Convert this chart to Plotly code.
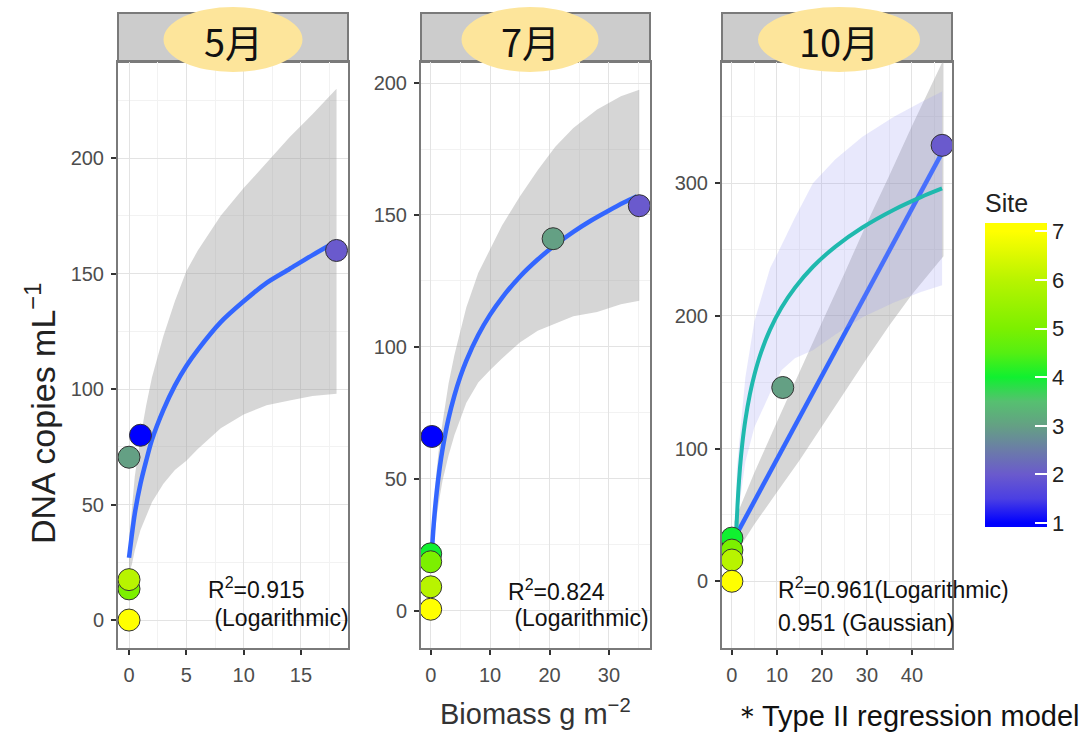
import plotly.graph_objects as go

W, H = 1084, 733

# ---------------- data ----------------
months = ["5月", "7月", "10月"]

# May
may_site = [1, 2, 3, 5, 6, 7]
may_biomass = [1.0, 18.1, 0.0, 0.0, 0.0, 0.0]
may_dna = [80, 160, 70.5, 13.5, 17.5, 0]
may_fit_x = [0, 0.25, 0.5, 1, 1.5, 2, 3, 4, 5, 6, 8, 10, 12, 14, 16, 18.1]
may_fit_y = [27, 37, 46, 59, 69, 78, 91, 101.5, 110, 117, 129, 138, 146, 152, 158, 164]
may_band_x = [0, 0.25, 0.5, 1, 1.5, 2, 3, 4, 5, 6, 8, 10, 12, 14, 16, 18.1]
may_up_y = [34, 50, 62, 79, 93, 105, 123, 138, 151, 160, 175, 187, 198, 209, 219, 230]
may_lo_y = [20, 24, 30, 39, 45, 51, 59, 65, 69, 74, 83, 89, 93, 95, 97, 98]
may_r2 = ["R<sup>2</sup>=0.915", " (Logarithmic)"]

# July
jul_site = [1, 2, 3, 4, 5, 6, 7]
jul_biomass = [0.2, 35.1, 20.6, 0, 0, 0, 0]
jul_dna = [66, 153.5, 141, 21.5, 18.5, 9, 0.5]
jul_fit_x = [0.17, 0.5, 1, 1.5, 2, 3, 4, 5, 6, 8, 10, 12, 15, 18, 21, 24, 27, 30, 32.5, 34.7]
jul_fit_y = [21.4, 32.4, 44.7, 53.9, 61.3, 72.8, 81.6, 88.8, 94.8, 104.5, 112.2, 118.6,
             126.6, 133.1, 138.7, 143.6, 147.9, 151.7, 154.7, 157.1]
jul_band_x = [0.17, 0.5, 1, 1.5, 2, 3, 4, 6, 8, 10, 12, 15, 18, 21, 24, 28, 32, 35.1]
jul_up_y = [25, 38, 53, 64, 72, 86, 97, 115, 128, 137, 146, 157, 167, 176, 183, 190, 195, 197.5]
jul_lo_y = [17.4, 25.4, 35.7, 42.9, 49.3, 58.8, 66.6, 78.8, 86.5, 91.2, 95.6, 101.6,
            106.1, 108.7, 111.6, 113.2, 116.1, 117.5]
jul_r2 = ["R<sup>2</sup>=0.824", " (Logarithmic)"]

# October
oct_site = [2, 3, 4, 5, 6, 7]
oct_biomass = [46.7, 11.3, 0, 0, 0, 0]
oct_dna = [328.5, 146, 32.5, 23.5, 16, 0]
oct_lin_x = [0.5, 46.7]
oct_lin_y = [32, 323]
oct_lin_band_x = [0.5, 5, 10, 15, 20, 25, 30, 35, 40, 47]
oct_lin_up_y = [45, 82, 120, 158, 195, 232, 270, 306, 343, 393]
oct_lin_lo_y = [19, 43, 67, 91, 116, 142, 168, 193, 216, 245]
oct_log_x = [0.75, 0.9, 1.1, 1.4, 1.8, 2.3, 3, 4, 5, 6.5, 8.5, 11, 14, 18, 23, 29, 36, 42, 46.7]
oct_log_y = [11.8, 29.5, 47.1, 66.6, 85.6, 103.3, 121.7, 141, 155.7, 172.7, 189.8, 206.1,
             221.2, 237, 252.2, 266.6, 280, 289.5, 296]
oct_log_band_x = [0.75, 1.1, 1.8, 3, 5, 8.5, 11, 14, 18, 23, 29, 36, 42, 46.7]
oct_log_up_y = [22, 85, 111, 154, 196, 236, 253, 274, 300, 318, 335, 350, 361, 369]
oct_log_lo_y = [2, 49, 61, 90, 116, 142, 159, 168, 174, 186, 199, 210, 218, 223]
oct_r2 = ["R<sup>2</sup>=0.961(Logarithmic)", "0.951 (Gaussian)"]

site_ticks = [1, 2, 3, 4, 5, 6, 7]
x_title = "Biomass g m<sup>−2</sup>"
y_title = "DNA copies mL<sup>−1</sup>"
footnote = "＊Type II regression model"

# ---------------- styling / layout ----------------
def px(x):
    return x / W

def py(y):
    return 1 - y / H

panels = [(118, 348), (421, 650), (722, 952)]
TOP, BOT, STRIP_TOP = 62, 648, 13
ranges_x = [[-0.96, 19.1], [-1.63, 36.9], [-2.2, 48.9]]
ranges_y = [[-12.1, 241.6], [-14.2, 208], [-50.3, 391.3]]
dt_x = [5, 10, 10]
dt_y = [50, 50, 100]

BLUE = "#3366ff"
TEAL = "#1fb9ae"
GRAYBAND = "rgba(153,153,153,0.4)"
LAVBAND = "rgba(150,150,240,0.22)"

site_color_stops = [
    (1.0, "#0000ff"), (1.5, "#4b3fe3"), (2.0, "#6a5acd"), (2.5, "#6b7ca8"),
    (3.0, "#64a084"), (3.5, "#56c070"), (4.0, "#10f030"), (4.5, "#55ef12"),
    (5.0, "#7cf000"), (5.5, "#9af200"), (6.0, "#b8f400"), (6.5, "#dcf900"),
    (7.0, "#ffff00")]
CMIN, CMAX = 0.92, 7.17
cscale = [[0.0, site_color_stops[0][1]]]
for v, c in site_color_stops:
    cscale.append([(v - CMIN) / (CMAX - CMIN), c])
cscale.append([1.0, site_color_stops[-1][1]])

fig = go.Figure()

def band(xa, ya, bx, up_y, lo_y, color):
    fig.add_trace(go.Scatter(
        x=list(bx) + list(bx)[::-1], y=list(up_y) + list(lo_y)[::-1],
        mode="lines", fill="toself", fillcolor=color, line=dict(width=0),
        xaxis=xa, yaxis=ya, hoverinfo="skip", showlegend=False))

def curve(xa, ya, x, y, color, width=4.5):
    fig.add_trace(go.Scatter(
        x=x, y=y, mode="lines", line=dict(color=color, width=width, shape="spline", smoothing=0.8),
        xaxis=xa, yaxis=ya, hoverinfo="skip", showlegend=False))

def points(xa, ya, x, y, s):
    fig.add_trace(go.Scatter(
        x=x, y=y, mode="markers", cliponaxis=False,
        marker=dict(size=22, color=s, coloraxis="coloraxis",
                    line=dict(color="#333333", width=1)),
        xaxis=xa, yaxis=ya, showlegend=False))

# May
band("x", "y", may_band_x, may_up_y, may_lo_y, GRAYBAND)
curve("x", "y", may_fit_x, may_fit_y, BLUE)
points("x", "y", may_biomass, may_dna, may_site)
# July
band("x2", "y2", jul_band_x, jul_up_y, jul_lo_y, GRAYBAND)
curve("x2", "y2", jul_fit_x, jul_fit_y, BLUE)
points("x2", "y2", jul_biomass, jul_dna, jul_site)
# October
band("x3", "y3", oct_lin_band_x, oct_lin_up_y, oct_lin_lo_y, GRAYBAND)
curve("x3", "y3", oct_lin_x, oct_lin_y, BLUE)
band("x3", "y3", oct_log_band_x, oct_log_up_y, oct_log_lo_y, LAVBAND)
curve("x3", "y3", oct_log_x, oct_log_y, TEAL, 4)
points("x3", "y3", oct_biomass, oct_dna, oct_site)

SANS = "Liberation Sans, Arial, sans-serif"
TICKFONT = dict(family=SANS, size=20, color="#4d4d4d")

layout = dict(
    width=W, height=H, margin=dict(l=0, r=0, t=0, b=0),
    paper_bgcolor="white", plot_bgcolor="white", showlegend=False,
    coloraxis=dict(
        colorscale=cscale, cmin=CMIN, cmax=CMAX,
        colorbar=dict(
            x=px(985), xanchor="left", y=py(527), yanchor="bottom",
            thickness=62, thicknessmode="pixels", len=(527 - 190) / H, lenmode="fraction",
            tickvals=site_ticks, ticks="inside", ticklen=12, tickcolor="white", tickwidth=1.5,
            tickfont=dict(family=SANS, size=22, color="#222"),
            outlinewidth=0, xpad=0, ypad=0,
            title=dict(text="Site", side="top", font=dict(family=SANS, size=25, color="#222")),
        )),
)

shapes = []
annotations = []
for i, (l, r) in enumerate(panels):
    sfx = "" if i == 0 else str(i + 1)
    common = dict(showline=True, mirror=True, linecolor="#7a7a7a", linewidth=2,
                  showgrid=True, gridcolor="#e3e3e3", gridwidth=1, zeroline=False,
                  ticks="outside", ticklen=5, tickwidth=2, tickcolor="#333333",
                  tickfont=TICKFONT, ticklabelstandoff=3)
    layout["xaxis" + sfx] = dict(common, domain=[px(l), px(r)], range=ranges_x[i],
                                 dtick=dt_x[i], tick0=0, anchor="y" + sfx,
                                 minor=dict(dtick=dt_x[i] / 2, tick0=0, showgrid=True,
                                            gridcolor="#f2f2f2", ticks=""))
    layout["yaxis" + sfx] = dict(common, domain=[py(BOT), py(TOP)], range=ranges_y[i],
                                 dtick=dt_y[i], tick0=0, anchor="x" + sfx,
                                 minor=dict(dtick=dt_y[i] / 2, tick0=0, showgrid=True,
                                            gridcolor="#f2f2f2", ticks=""))
    shapes.append(dict(type="rect", xref="paper", yref="paper",
                       x0=px(l), x1=px(r), y0=py(TOP), y1=py(STRIP_TOP),
                       fillcolor="#cccccc", line=dict(color="#7a7a7a", width=2),
                       layer="below"))

ellipses = [(233, 139), (530, 137), (839, 162)]
for (cx, w), m in zip(ellipses, months):
    shapes.append(dict(type="circle", xref="paper", yref="paper",
                       x0=px(cx - w / 2), x1=px(cx + w / 2), y0=py(72), y1=py(7),
                       fillcolor="#fde59b", line=dict(width=0), layer="above"))
    annotations.append(dict(text=m, xref="paper", yref="paper", x=px(cx), y=py(40),
                            xanchor="center", yanchor="middle", showarrow=False,
                            font=dict(family="Noto Sans CJK JP, sans-serif", size=38, color="#111")))

r2_pos = [(206, 588, 618), (506, 590, 618), (776, 588, 623)]
for (x0, y1, y2), txt in zip(r2_pos, [may_r2, jul_r2, oct_r2]):
    for yy, t in zip((y1, y2), txt):
        annotations.append(dict(text=t, xref="paper", yref="paper", x=px(x0), y=py(yy),
                                xanchor="left", yanchor="middle", showarrow=False,
                                font=dict(family=SANS, size=23, color="#111")))

annotations.append(dict(text=x_title, xref="paper", yref="paper", x=px(535), y=py(712),
                        xanchor="center", yanchor="middle", showarrow=False,
                        font=dict(family=SANS, size=29, color="#333")))
annotations.append(dict(text=y_title, xref="paper", yref="paper", x=px(40), y=py(414),
                        xanchor="center", yanchor="middle", showarrow=False, textangle=-90,
                        font=dict(family=SANS, size=34, color="#222")))
annotations.append(dict(text=footnote, xref="paper", yref="paper", x=px(731), y=py(716),
                        xanchor="left", yanchor="middle", showarrow=False,
                        font=dict(family=SANS, size=29, color="#111")))

layout["shapes"] = shapes
layout["annotations"] = annotations
fig.update_layout(**layout)
fig.write_html("out.html")
